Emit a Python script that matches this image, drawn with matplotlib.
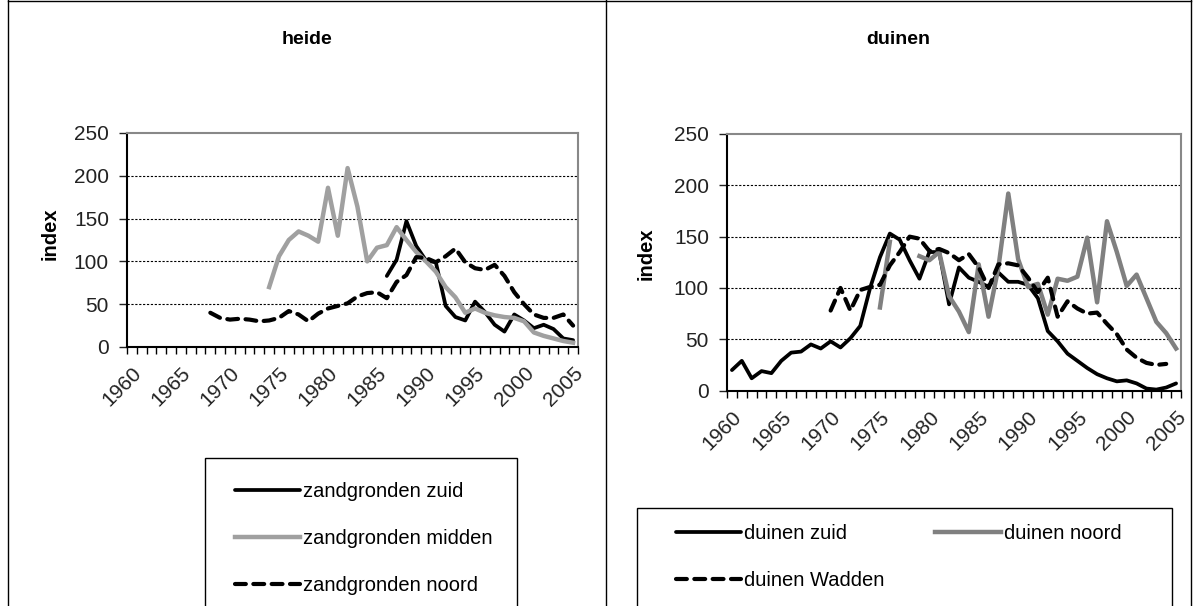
import numpy as np
import matplotlib.pyplot as plt
from matplotlib.lines import Line2D
from matplotlib.patches import Rectangle
from matplotlib.ticker import FixedLocator

plt.rcParams['font.family'] = ['Liberation Sans', 'DejaVu Sans']

W, H = 1198, 606

years = np.arange(1960, 2006)
year_labels = [str(y) for y in range(1960, 2006, 5)]

# heide (index per year)
heide_zuid_start = 1986
heide_zuid = [83, 102, 147, 118, 101, 99, 48, 35, 31, 53, 41, 26, 18, 38, 31,
              22, 26, 21, 10, 8]
heide_midden_start = 1974
heide_midden = [70, 106, 125, 135, 130, 123, 186, 130, 209, 164, 100, 116, 119,
                140, 125, 111, 100, 88, 70, 58, 40, 45, 40, 37, 35, 34, 30, 17,
                13, 10, 7, 5]
heide_noord_start = 1968
heide_noord = [40, 34, 32, 33, 32, 30, 31, 34, 42, 38, 30, 39, 45, 48, 51, 59,
               63, 64, 57, 76, 84, 105, 104, 99, 106, 115, 99, 92, 90, 96, 83,
               64, 50, 38, 34, 34, 38, 25]

# duinen
duinen_zuid_start = 1960
duinen_zuid = [20, 29, 12, 19, 17, 29, 37, 38, 45, 41, 48, 42, 51, 63, 100, 130,
               153, 147, 127, 109, 135, 135, 84, 120, 110, 106, 101, 115, 106,
               106, 103, 90, 58, 48, 36, 29, 22, 16, 12, 9, 10, 7, 2, 1, 3, 7]
duinen_noord_start = 1975
duinen_noord = [81, 145, np.nan, np.nan, 131, 127, 135, 92, 77, 57, 123, 72, 120,
                192, 128, 101, 104, 74, 109, 107, 111, 149, 86, 165, 135, 102,
                113, 90, 67, 56, 41]
duinen_wadden_start = 1970
duinen_wadden = [78, 100, 78, 98, 101, 103, 122, 135, 150, 148, 136, 138, 134,
                 127, 133, 120, 100, 123, 124, 122, 110, 96, 110, 72, 87, 80, 75,
                 76, 65, 55, 40, 32, 27, 25, 26]


def series(start, values):
    out = np.full(len(years), np.nan)
    i = start - years[0]
    out[i:i + len(values)] = values
    return out


def setup_axes(ax):
    ax.set_xlim(1959.5, 2005.5)
    ax.set_ylim(0, 250)
    ax.set_yticks(range(0, 251, 50))
    ax.set_xticks(range(1960, 2006, 5))
    ax.set_xticklabels(year_labels, rotation=45, ha='right', va='top',
                       rotation_mode='anchor')
    ax.xaxis.set_minor_locator(FixedLocator(np.arange(1959.5, 2006, 1)))
    ax.tick_params(axis='x', which='major', length=0, pad=12, labelsize=15,
                   colors='#222222')
    ax.tick_params(axis='x', which='minor', length=5, width=1, direction='out')
    ax.tick_params(axis='y', length=6, width=1, direction='out', pad=7,
                   labelsize=15, colors='#222222')
    for v in (50, 100, 150, 200):
        ax.axhline(v, color='black', lw=0.8, ls=(0, (2, 1.5)), zorder=0)
    ax.spines['left'].set_linewidth(1.5)
    ax.spines['bottom'].set_linewidth(1.5)
    ax.spines['top'].set_color('#888888')
    ax.spines['right'].set_color('#888888')
    ax.spines['top'].set_linewidth(1.5)
    ax.spines['right'].set_linewidth(1.5)
    ax.set_ylabel('index', fontsize=14.5, fontweight='bold')


fig = plt.figure(figsize=(W / 100, H / 100), dpi=100)

ax1 = fig.add_axes([127 / W, 1 - 347 / H, 451 / W, 214 / H])
ax2 = fig.add_axes([727 / W, 1 - 390.6 / H, 454 / W, 256.6 / H])

solid = dict(color='black', lw=2.7, solid_joinstyle='round', solid_capstyle='round')
dash = dict(color='black', lw=3, ls=(0, (2.6, 1.8)), dash_capstyle='round',
            dash_joinstyle='round')

l1, = ax1.plot(years, series(heide_zuid_start, heide_zuid), **solid)
l2, = ax1.plot(years, series(heide_midden_start, heide_midden), color='#a0a0a0',
               lw=3.2, solid_joinstyle='round')
l3, = ax1.plot(years, series(heide_noord_start, heide_noord), **dash)
setup_axes(ax1)
ax1.yaxis.set_label_coords(-0.15, 0.53)

r1, = ax2.plot(years, series(duinen_zuid_start, duinen_zuid), **solid)
r2, = ax2.plot(years, series(duinen_noord_start, duinen_noord), color='#808080',
               lw=3.2, solid_joinstyle='round')
r3, = ax2.plot(years, series(duinen_wadden_start, duinen_wadden), **dash)
setup_axes(ax2)
ax2.yaxis.set_label_coords(-0.158, 0.532)

fig.text(307 / W, 1 - 40 / H, 'heide', ha='center', va='center', fontsize=14,
         fontweight='bold')
fig.text(898 / W, 1 - 40 / H, 'duinen', ha='center', va='center', fontsize=14,
         fontweight='bold')

# legend boxes (cut off by the bottom of the picture)
fig.add_artist(Rectangle((205 / W, -0.1), 312 / W, 1.1 - 458 / H,
                         transform=fig.transFigure, fill=False, ec='black', lw=1))
fig.add_artist(Rectangle((637 / W, -0.1), 535 / W, 1.1 - 508 / H,
                         transform=fig.transFigure, fill=False, ec='black', lw=1))

leg_kw = dict(loc='upper left', frameon=False, borderaxespad=0, borderpad=0,
              handlelength=3.25, handletextpad=0.15, labelspacing=1.4,
              fontsize=14.5)
fig.legend([l1, l2, l3],
           ['zandgronden zuid', 'zandgronden midden', 'zandgronden noord'],
           bbox_to_anchor=(235 / W, 1 - 482 / H), ncol=1, **leg_kw)
fig.legend([r1, r3, r2], ['duinen zuid', 'duinen Wadden', 'duinen noord'],
           bbox_to_anchor=(676 / W, 1 - 524 / H), ncol=2, columnspacing=2.5,
           **leg_kw)

# panel borders
for x in (8, 606, 1191):
    fig.add_artist(Line2D([x / W, x / W], [0, 1], transform=fig.transFigure,
                          color='black', lw=1))
fig.add_artist(Line2D([8 / W, 1191 / W], [1 - 1 / H, 1 - 1 / H],
                      transform=fig.transFigure, color='black', lw=1))

fig.savefig('out.png', dpi=100)
